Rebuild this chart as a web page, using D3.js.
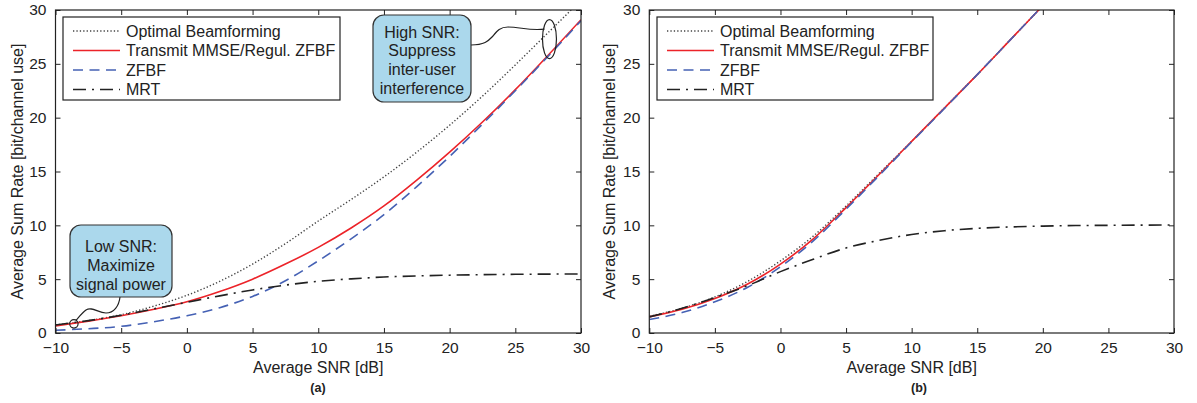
<!DOCTYPE html>
<html>
<head>
<meta charset="utf-8">
<script src="https://cdn.jsdelivr.net/npm/d3@7"></script>
<style>
  html, body { margin: 0; padding: 0; background: #fff; }
  svg { display: block; font-family: "Liberation Sans", Arial, Helvetica, sans-serif; }
  text { fill: #222; }
</style>
</head>
<body>
<svg id="chart" width="1197" height="403"></svg>
<script>
// SNR grid (dB)
const snr = [-10, -7.5, -5, -2.5, 0, 2.5, 5, 7.5, 10, 12.5, 15, 17.5, 20, 22.5, 25, 27.5, 30];

// Panel (a): sum rate [bit/channel use]
const optimalA = [0.75, 1.15, 1.7, 2.5, 3.5, 4.8, 6.4, 8.3, 10.4, 12.4, 14.5, 16.8, 19.3, 22.0, 24.9, 27.9, 30.9];
const mmseA    = [0.65, 1.1, 1.6, 2.2, 2.9, 3.85, 5.0, 6.4, 7.95, 9.75, 11.8, 14.2, 16.8, 19.6, 22.6, 25.8, 29.1];
const zfbfA    = [0.25, 0.4, 0.62, 1.05, 1.6, 2.35, 3.4, 4.85, 6.7, 8.75, 11.0, 13.6, 16.4, 19.4, 22.5, 25.7, 29.0];
const mrtA     = [0.75, 1.15, 1.65, 2.25, 2.85, 3.45, 4.0, 4.45, 4.8, 5.03, 5.2, 5.3, 5.37, 5.42, 5.45, 5.47, 5.48];

// Panel (b): sum rate [bit/channel use]
const optimalB = [1.55, 2.3, 3.35, 4.8, 6.7, 9.0, 11.8, 14.8, 17.8, 20.9, 24.0, 27.2, 30.4, 33.6, 36.8, 40.0, 43.2];
const mmseB    = [1.5, 2.2, 3.2, 4.55, 6.4, 8.75, 11.65, 14.7, 17.8, 20.9, 24.0, 27.2, 30.4, 33.6, 36.8, 40.0, 43.2];
const zfbfB    = [1.25, 1.9, 2.9, 4.25, 6.15, 8.55, 11.5, 14.6, 17.75, 20.85, 24.0, 27.2, 30.4, 33.6, 36.8, 40.0, 43.2];
const mrtB     = [1.5, 2.3, 3.3, 4.4, 5.7, 6.85, 7.9, 8.6, 9.15, 9.5, 9.72, 9.85, 9.93, 9.98, 10.0, 10.02, 10.03];

const seriesNames = ["Optimal Beamforming", "Transmit MMSE/Regul. ZFBF", "ZFBF", "MRT"];
const xTicks = [-10, -5, 0, 5, 10, 15, 20, 25, 30];
const yTicks = [0, 5, 10, 15, 20, 25, 30];
const xLabel = "Average SNR [dB]";
const yLabel = "Average Sum Rate [bit/channel use]";
const panelTags = ["(a)", "(b)"];

// line styles per series
const styles = [
  { stroke: "#444", width: 1.4, dash: "1.3,2.1" },
  { stroke: "#ec2329", width: 1.6, dash: null },
  { stroke: "#4561b4", width: 1.6, dash: "10,6.5" },
  { stroke: "#222", width: 1.6, dash: "13,6,2,6" }
];

const svg = d3.select("#chart");
const fmt = d => (d < 0 ? "\u2212" + Math.abs(d) : String(d));

const panels = [
  { left: 55.5, right: 581, top: 10, bottom: 333, tagX: 318, ylabX: 23,
    legend: { x: 63, y: 17, w: 277, h: 83 },
    data: [optimalA, mmseA, zfbfA, mrtA] },
  { left: 649.3, right: 1174, top: 10, bottom: 333, tagX: 919, ylabX: 615,
    legend: { x: 657, y: 17, w: 276, h: 83 },
    data: [optimalB, mmseB, zfbfB, mrtB] }
];

panels.forEach((p, pi) => {
  const x = d3.scaleLinear().domain([-10, 30]).range([p.left, p.right]);
  const y = d3.scaleLinear().domain([0, 30]).range([p.bottom, p.top]);
  const g = svg.append("g");

  const clipId = "clip" + pi;
  svg.append("clipPath").attr("id", clipId)
    .append("rect").attr("x", p.left).attr("y", p.top)
    .attr("width", p.right - p.left).attr("height", p.bottom - p.top);

  // curves
  const line = d3.line().x((d, i) => x(snr[i])).y(d => y(d)).curve(d3.curveMonotoneX);
  const curves = g.append("g").attr("clip-path", `url(#${clipId})`);
  p.data.forEach((vals, si) => {
    const s = styles[si];
    curves.append("path").datum(vals)
      .attr("d", line)
      .attr("fill", "none")
      .attr("stroke", s.stroke)
      .attr("stroke-width", s.width)
      .attr("stroke-dasharray", s.dash);
  });

  // axes: ticks inward on all four sides, box frame
  const axB = d3.axisBottom(x).tickValues(xTicks).tickSizeInner(-5).tickSizeOuter(0).tickPadding(9).tickFormat(fmt);
  const axT = d3.axisTop(x).tickValues(xTicks).tickSizeInner(-5).tickSizeOuter(0).tickFormat("");
  const axL = d3.axisLeft(y).tickValues(yTicks).tickSizeInner(-5).tickSizeOuter(0).tickPadding(9).tickFormat(fmt);
  const axR = d3.axisRight(y).tickValues(yTicks).tickSizeInner(-5).tickSizeOuter(0).tickFormat("");

  const styleAxis = sel => {
    sel.select(".domain").remove();
    sel.selectAll("line").attr("stroke", "#222").attr("stroke-width", 1);
    sel.selectAll("text").attr("font-size", 15.5).attr("fill", "#222").attr("font-family", null);
  };
  g.append("g").attr("transform", `translate(0,${p.bottom})`).call(axB).call(styleAxis);
  g.append("g").attr("transform", `translate(0,${p.top})`).call(axT).call(styleAxis);
  g.append("g").attr("transform", `translate(${p.left},0)`).call(axL).call(styleAxis);
  g.append("g").attr("transform", `translate(${p.right},0)`).call(axR).call(styleAxis);

  g.append("rect")
    .attr("x", p.left).attr("y", p.top)
    .attr("width", p.right - p.left).attr("height", p.bottom - p.top)
    .attr("fill", "none").attr("stroke", "#222").attr("stroke-width", 1.2);

  // axis titles
  g.append("text").attr("x", (p.left + p.right) / 2).attr("y", 373)
    .attr("text-anchor", "middle").attr("font-size", 16).text(xLabel);
  g.append("text")
    .attr("transform", `translate(${p.ylabX},${(p.top + p.bottom) / 2}) rotate(-90)`)
    .attr("text-anchor", "middle").attr("font-size", 16).text(yLabel);
  g.append("text").attr("x", p.tagX).attr("y", 392)
    .attr("text-anchor", "middle").attr("font-size", 12.5).attr("font-weight", "bold")
    .text(panelTags[pi]);

  // legend
  const L = p.legend;
  const lg = g.append("g");
  lg.append("rect").attr("x", L.x).attr("y", L.y).attr("width", L.w).attr("height", L.h)
    .attr("fill", "#fff").attr("stroke", "#222").attr("stroke-width", 1.2);
  seriesNames.forEach((name, si) => {
    const cy = L.y + 14 + si * 19.5;
    const s = styles[si];
    lg.append("line")
      .attr("x1", L.x + 10).attr("x2", L.x + 57).attr("y1", cy).attr("y2", cy)
      .attr("stroke", s.stroke).attr("stroke-width", s.width)
      .attr("stroke-dasharray", s.dash);
    lg.append("text").attr("x", L.x + 63).attr("y", cy + 5.5)
      .attr("font-size", 16).text(name);
  });

  // annotations on panel (a)
  if (pi === 0) {
    const fill = "#abd8ec";
    const callout = (bx, by, bw, bh, lines, cx, firstBase) => {
      g.append("rect").attr("x", bx).attr("y", by).attr("width", bw).attr("height", bh)
        .attr("rx", 11).attr("ry", 11)
        .attr("fill", fill).attr("stroke", "#333").attr("stroke-width", 1.2);
      lines.forEach((t, i) => {
        g.append("text").attr("x", cx).attr("y", firstBase + i * 18.8)
          .attr("text-anchor", "middle").attr("font-size", 16).text(t);
      });
    };

    // low-SNR marker and connector
    const lowX = x(-8.6), lowY = y(0.85);
    g.append("path")
      .attr("d", `M120,297 C119,306 114,313 106,313 C98,313 92,306 86,310 C82,313 79,317 ${lowX + 2},${lowY - 3.5}`)
      .attr("fill", "none").attr("stroke", "#222").attr("stroke-width", 1.2);
    g.append("circle").attr("cx", lowX).attr("cy", lowY).attr("r", 4.2)
      .attr("fill", "none").attr("stroke", "#222").attr("stroke-width", 1.2);
    callout(70, 225, 102, 72, ["Low SNR:", "Maximize", "signal power"], 121, 252);

    // high-SNR marker and connector
    const hiX = x(27.6), hiY = y(27.3);
    g.append("path")
      .attr("d", `M471,45 C486,45 489,40 493,36 C497,31 500,27 508,27 C520,27 530,31 ${hiX - 5},${hiY - 10}`)
      .attr("fill", "none").attr("stroke", "#222").attr("stroke-width", 1.2);
    g.append("ellipse").attr("cx", hiX).attr("cy", hiY).attr("rx", 7).attr("ry", 19.5)
      .attr("fill", "none").attr("stroke", "#222").attr("stroke-width", 1.2);
    callout(373, 15, 98, 87, ["High SNR:", "Suppress", "inter-user", "interference"], 422, 37.5);
  }
});
</script>
</body>
</html>
